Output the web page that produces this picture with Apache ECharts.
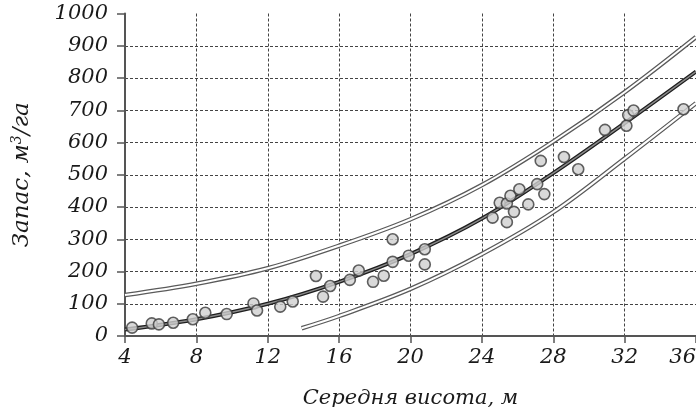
<!DOCTYPE html>
<html>
<head>
<meta charset="utf-8">
<script src="https://cdn.jsdelivr.net/npm/echarts@6/dist/echarts.min.js"></script>
<style>
html,body{margin:0;padding:0;background:#fff;}
#chart{width:696px;height:407px;}
</style>
</head>
<body>
<div id="chart"></div>
<script>
// Observed plots: mean height (m) vs stock (m3/ha)
const pointX = [4.4, 5.5, 5.9, 6.7, 7.8, 8.5, 9.7, 11.2, 11.4, 12.7, 13.4,
  14.7, 15.1, 15.5, 16.6, 17.1, 17.9, 18.5, 19.0, 19.0, 19.9, 20.8, 20.8,
  24.6, 25.0, 25.4, 25.4, 25.6, 25.8, 26.1, 26.6, 27.1, 27.5,
  27.3, 28.6, 29.4, 30.9, 32.1, 32.2, 32.5, 35.3];
const pointY = [26, 39, 36, 41, 52, 72, 68, 101, 79, 91, 107,
  186, 122, 155, 174, 203, 168, 187, 300, 230, 249, 269, 222,
  367, 413, 411, 353, 435, 385, 455, 408, 471, 440,
  543, 555, 517, 639, 652, 685, 699, 703];

// Regression curve and its upper/lower bounds
const midX = [4, 8, 12, 16, 20, 24, 28, 32, 36];
const midY = [20, 52, 100, 168, 254, 364, 505, 660, 820];
const upX = [4, 8, 12, 16, 20, 24, 28, 32, 36];
const upY = [127, 162, 210, 280, 362, 468, 603, 756, 927];
const lowX = [13.9, 16, 20, 24, 28, 32, 36];
const lowY = [24, 62, 146, 254, 384, 550, 722];

const xTicks = [4, 8, 12, 16, 20, 24, 28, 32, 36];
const yTicks = [0, 100, 200, 300, 400, 500, 600, 700, 800, 900, 1000];

const xName = 'Середня висота, м';
const yNameA = 'Запас, м';
const yNameSup = '3';
const yNameB = '/га';

const zip = (xs, ys) => xs.map((x, i) => [x, ys[i]]);
const FONT = '"DejaVu Serif", "Liberation Serif", serif';
const TXT = '#1a1a1a';

function doubleLine(name, xs, ys, outerColor, outerW, innerColor, innerW, z) {
  const d = zip(xs, ys);
  return [
    {type: 'line', name: name + '_o', data: d, smooth: 0.35, showSymbol: false, symbol: 'none',
     lineStyle: {color: outerColor, width: outerW}, z: z, silent: true, animation: false, clip: true},
    {type: 'line', name: name + '_i', data: d, smooth: 0.35, showSymbol: false, symbol: 'none',
     lineStyle: {color: innerColor, width: innerW}, z: z + 1, silent: true, animation: false, clip: true}
  ];
}

const chart = echarts.init(document.getElementById('chart'), null, {renderer: 'canvas'});
const option = {
  backgroundColor: '#fff',
  animation: false,
  grid: {left: 125, right: 0, top: 13.5, bottom: 71, containLabel: false, outerBoundsMode: 'none'},
  xAxis: {
    type: 'value', min: xTicks[0], max: xTicks[xTicks.length - 1], interval: 4,
    name: xName, nameLocation: 'middle', nameGap: 52,
    nameTextStyle: {fontFamily: FONT, fontStyle: 'italic', fontSize: 21, color: TXT},
    axisLine: {show: true, onZero: false, lineStyle: {color: '#555', width: 2}},
    axisTick: {show: true, inside: false, length: 7, lineStyle: {color: '#555', width: 1.5}},
    axisLabel: {fontFamily: FONT, fontStyle: 'italic', fontSize: 21, color: TXT, margin: 11, alignMaxLabel: 'right',
      formatter: v => String(v)},
    splitLine: {show: true, showMinLine: false, lineStyle: {color: '#444', width: 1, type: [3, 2]}}
  },
  yAxis: {
    type: 'value', min: yTicks[0], max: yTicks[yTicks.length - 1], interval: 100,
    name: '{a|' + yNameA + '}{s|' + yNameSup + '}{a|' + yNameB + '}',
    nameLocation: 'middle', nameGap: 90, nameRotate: 90,
    nameTextStyle: {
      fontFamily: FONT, fontStyle: 'italic', fontSize: 23, color: TXT,
      rich: {
        a: {fontFamily: FONT, fontStyle: 'italic', fontSize: 23, color: TXT},
        s: {fontFamily: FONT, fontStyle: 'italic', fontSize: 14, color: TXT, padding: [0, 0, 11, 0]}
      }
    },
    axisLine: {show: true, onZero: false, lineStyle: {color: '#555', width: 2}},
    axisTick: {show: true, inside: false, length: 8, lineStyle: {color: '#555', width: 1.5}},
    axisLabel: {fontFamily: FONT, fontStyle: 'italic', fontSize: 21, color: TXT, margin: 17,
      formatter: v => String(v)},
    splitLine: {show: true, showMinLine: false, showMaxLine: false, lineStyle: {color: '#444', width: 1, type: [3, 2]}}
  },
  series: [
    ...doubleLine('upper', upX, upY, '#5a5a5a', 4.5, '#fff', 2, 3),
    ...doubleLine('lower', lowX, lowY, '#5a5a5a', 4.5, '#fff', 2, 3),
    ...doubleLine('mid', midX, midY, '#1e1e1e', 4, '#8a8a8a', 1.4, 5),
    {
      type: 'scatter', name: 'points', data: zip(pointX, pointY),
      symbol: 'circle', symbolSize: 11,
      itemStyle: {color: '#d0d0d0', borderColor: '#3a3a3a', borderWidth: 1.6},
      z: 10, silent: true, animation: false
    }
  ]
};
chart.setOption(option);
</script>
</body>
</html>
